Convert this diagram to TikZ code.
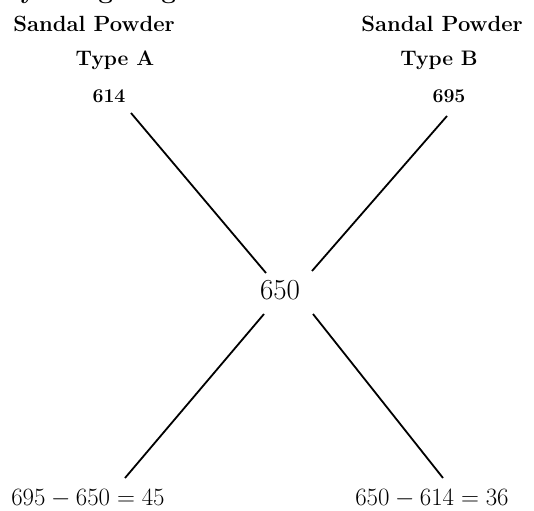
\documentclass[tikz,border=0pt]{standalone}
\begin{document}
\begin{tikzpicture}[x=1pt,y=-1pt,
  head/.style={font=\fontsize{22}{26}\selectfont\bfseries, inner sep=0pt},
  typ/.style={font=\fontsize{21}{25}\selectfont\bfseries, inner sep=0pt},
  num/.style={font=\fontsize{19.5}{23}\selectfont\bfseries, inner sep=0pt},
  val/.style={font=\fontsize{24}{28}\selectfont, inner sep=0pt},
  midval/.style={font=\fontsize{29}{32}\selectfont, inner sep=0pt},
  arm/.style={line width=1.8pt}]
\useasboundingbox (0,0) rectangle (534,510);
\begin{scope}
\clip (0,0) rectangle (534,510);
\node[font=\fontsize{26}{30}\selectfont\bfseries, anchor=base west, inner sep=0pt] (top) at (0,-1.5) {By using alligation rule};
\end{scope}
\node[head] (hA1) at (94,24) {Sandal Powder};
\node[typ] (hA2) at (115,60) {Type A};
\node[num] (nA) at (109,96) {614};
\node[head] (hB1) at (442,24) {Sandal Powder};
\node[typ] (hB2) at (439,60) {Type B};
\node[num] (nB) at (449,96) {695};
\node[midval] (mid) at (280,290) {650};
\node[val] (rA) at (88,499) {$695 - 650 = 45$};
\node[val] (rB) at (432,499) {$650 - 614 = 36$};
\coordinate (a1) at (131,113); \coordinate (a2) at (266,273);
\coordinate (b1) at (447,116); \coordinate (b2) at (312,271);
\coordinate (c1) at (264,314); \coordinate (c2) at (125,478);
\coordinate (d1) at (313,314); \coordinate (d2) at (443,478);
\draw[arm] (a1) -- (a2);
\draw[arm] (b1) -- (b2);
\draw[arm] (c1) -- (c2);
\draw[arm] (d1) -- (d2);
\end{tikzpicture}
\end{document}
